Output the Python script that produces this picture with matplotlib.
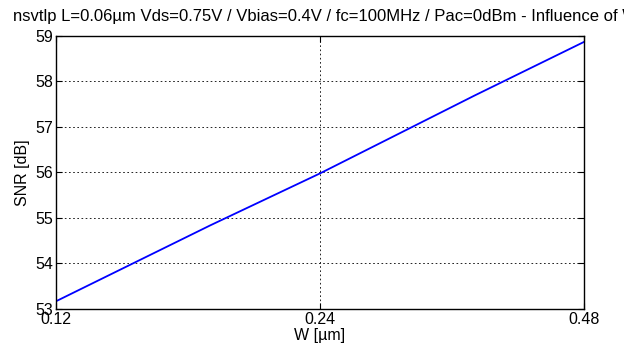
import matplotlib
matplotlib.use("Agg")
import matplotlib.pyplot as plt
from matplotlib.ticker import FixedLocator, NullLocator

plt.rcParams['font.family'] = ['Liberation Sans', 'DejaVu Sans']

# data
w = [0.12, 0.18, 0.24, 0.36, 0.48]
snr = [53.17, 54.84, 55.98, 57.69, 58.87]
xticks = [0.12, 0.24, 0.48]
xlabels = ['0.12', '0.24', '0.48']
yticks = [53, 54, 55, 56, 57, 58, 59]

fig = plt.figure(figsize=(6.24, 3.5), dpi=100)
ax = fig.add_axes([56/624, 1 - 309/350, 528/624, 273/350])

ax.plot(w, snr, color='#0000ff', lw=1.3)
ax.set_xscale('log')
ax.set_xlim(0.12, 0.48)
ax.set_ylim(53, 59)
ax.xaxis.set_major_locator(FixedLocator(xticks))
ax.xaxis.set_minor_locator(NullLocator())
ax.set_xticklabels(xlabels)
ax.set_yticks(yticks)
ax.grid(True, color='black', ls=(0, (2, 3)), lw=0.6)
ax.tick_params(direction='in', top=True, right=True, length=4, labelsize=11.5, pad=2)
for s in ax.spines.values():
    s.set_linewidth(1.0)

ax.set_xlabel('W [µm]', fontsize=11.5, labelpad=1)
ax.set_ylabel('SNR [dB]', fontsize=11.5, labelpad=4)

fig.text(13/624, 1 - 16/350, 'nsvtlp L=0.06µm Vds=0.75V / Vbias=0.4V / fc=100MHz / Pac=0dBm - Influence of W',
         fontsize=12, va='center', ha='left')

fig.savefig('out.png', dpi=100)
